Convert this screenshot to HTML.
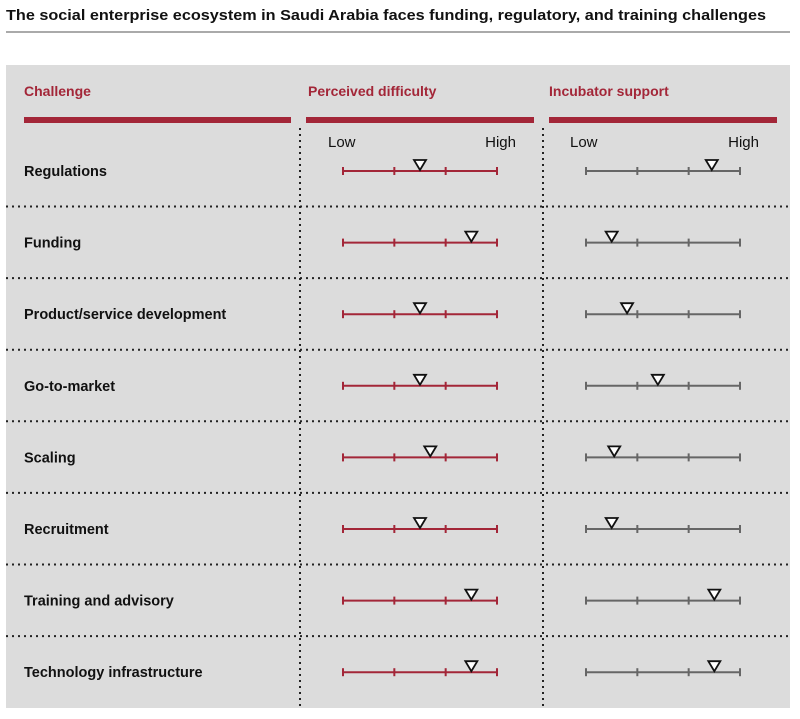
<!DOCTYPE html>
<html><head><meta charset="utf-8"><style>
body{margin:0;background:#fff;width:800px;height:714px;overflow:hidden;font-family:"Liberation Sans",Arial,sans-serif}
</style></head><body>
<svg width="800" height="714" viewBox="0 0 800 714" xmlns="http://www.w3.org/2000/svg" font-family="Liberation Sans, Arial, sans-serif">
<text x="6" y="20" font-size="14.5" font-weight="bold" fill="#111" textLength="760" lengthAdjust="spacingAndGlyphs">The social enterprise ecosystem in Saudi Arabia faces funding, regulatory, and training challenges</text>
<rect x="6" y="31" width="784" height="2" fill="#aaa"/>
<rect x="6" y="65" width="784" height="643" fill="#dcdcdc"/>
<text x="24" y="96" font-size="14" font-weight="bold" fill="#a32638">Challenge</text>
<text x="308" y="96" font-size="14" font-weight="bold" fill="#a32638">Perceived difficulty</text>
<text x="549" y="96" font-size="14" font-weight="bold" fill="#a32638">Incubator support</text>
<rect x="24" y="117" width="267" height="6" fill="#a32638"/>
<rect x="306" y="117" width="228" height="6" fill="#a32638"/>
<rect x="549" y="117" width="228" height="6" fill="#a32638"/>
<line x1="300" y1="128" x2="300" y2="708" stroke="#222" stroke-width="2" stroke-dasharray="2,4"/>
<line x1="543" y1="128" x2="543" y2="708" stroke="#222" stroke-width="2" stroke-dasharray="2,4"/>
<text x="328" y="147" font-size="15" fill="#111">Low</text>
<text x="516" y="147" font-size="15" fill="#111" text-anchor="end">High</text>
<text x="570" y="147" font-size="15" fill="#111">Low</text>
<text x="759" y="147" font-size="15" fill="#111" text-anchor="end">High</text>
<g id="rows"></g>
</svg>
<script>
const categories=["Regulations","Funding","Product/service development","Go-to-market","Scaling","Recruitment","Training and advisory","Technology infrastructure"];
const difficulty=[1.5,2.5,1.5,1.5,1.7,1.5,2.5,2.5];
const support=[2.45,0.5,0.8,1.4,0.55,0.5,2.5,2.5];
const scaleMax=3;
const NS="http://www.w3.org/2000/svg";
const g=document.getElementById('rows');
function mk(t,a){const e=document.createElementNS(NS,t);for(const k in a)e.setAttribute(k,a[k]);g.appendChild(e);return e;}
function rowY(i){return 171+i*71.6;}
function xD(v){return 343+v/scaleMax*154;}
function xS(v){return 586+v/scaleMax*154;}
function scale(xf,y,color,name){
  const l=mk('line',{x1:xf(0),y1:y,x2:xf(scaleMax),y2:y,stroke:color,'stroke-width':2});
  
  
  for(let t=0;t<=scaleMax;t++){
    const k=mk('line',{x1:xf(t),y1:y-4,x2:xf(t),y2:y+4,stroke:color,'stroke-width':2});
    
    
  }
}
function marker(x,y,name){
  const p=mk('polygon',{points:`${x-6},${y-11} ${x+6},${y-11} ${x},${y-1}`,fill:'#fff',stroke:'#111','stroke-width':1.8});
  
  
}
categories.forEach((c,i)=>{
  const y=rowY(i);
  const t=mk('text',{x:24,y:y+5,'font-size':14.5,'font-weight':'bold',fill:'#111'});
  t.textContent=c;
  
  
  scale(xD,y,'#a32638','difficulty');
  scale(xS,y,'#666','support');
  marker(xD(difficulty[i]),y,'difficulty-marker');
  marker(xS(support[i]),y,'support-marker');
  if(i<categories.length-1){
    const s=mk('line',{x1:6,y1:y+35.5,x2:790,y2:y+35.5,stroke:'#222','stroke-width':2,'stroke-dasharray':'2,4'});
    
    
  }
});
</script>
</body></html>
